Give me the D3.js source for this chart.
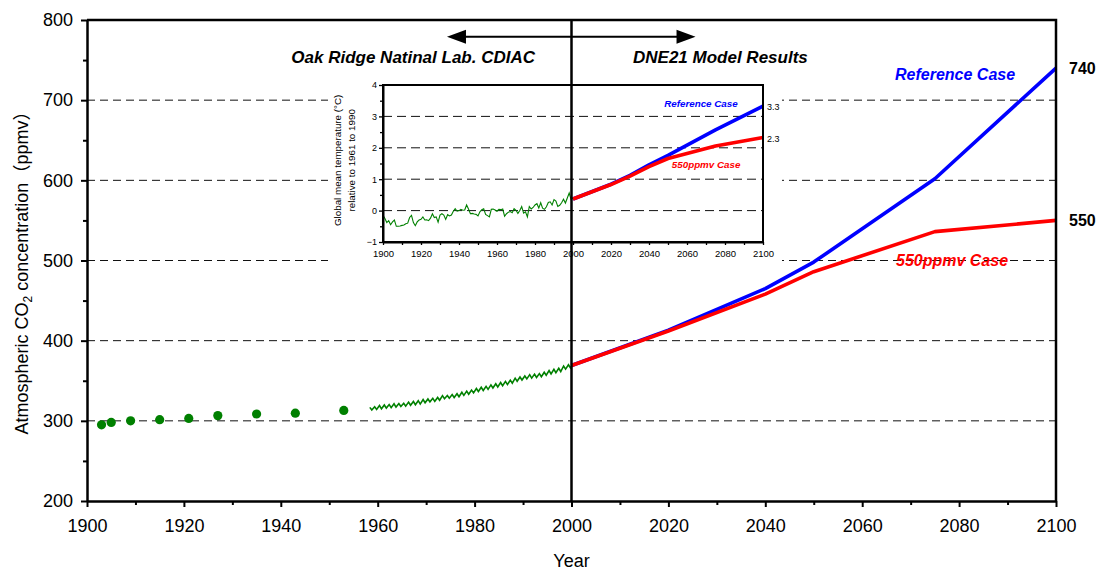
<!DOCTYPE html>
<html>
<head>
<meta charset="utf-8">
<script src="https://cdn.jsdelivr.net/npm/d3@7"></script>
<style>
  body { margin: 0; background: #fff; }
  svg { font-family: "Liberation Sans", Arial, "Noto Sans CJK JP", sans-serif; }
</style>
</head>
<body>
<div id="chart"></div>
<script>
// ice core CO2 (ppmv)
const iceYears = [1903, 1905, 1909, 1915, 1921, 1927, 1935, 1943, 1953];
const iceCO2 = [295, 298, 300, 301.5, 303, 306.5, 308.5, 309.5, 313];

// Mauna Loa seasonal highs (May) and lows (Oct), ppmv
const mlYears = [1958, 1959, 1960, 1961, 1962, 1963, 1964, 1965, 1966, 1967, 1968, 1969, 1970, 1971,
  1972, 1973, 1974, 1975, 1976, 1977, 1978, 1979, 1980, 1981, 1982, 1983, 1984, 1985, 1986, 1987,
  1988, 1989, 1990, 1991, 1992, 1993, 1994, 1995, 1996, 1997, 1998, 1999, 2000];
const mlHigh = [316.8, 317.6, 319.1, 319.8, 320.3, 321.3, 321.5, 322.0, 323.3, 324.1, 325.1, 326.5,
  327.3, 328.1, 329.2, 331.4, 331.7, 332.8, 333.8, 335.6, 337.0, 338.3, 340.3, 341.8, 343.0, 344.8,
  346.3, 347.8, 349.2, 350.8, 353.2, 354.7, 356.0, 357.6, 358.3, 358.9, 360.6, 362.6, 364.3, 365.5,
  368.4, 370.0, 371.0];
const mlLow = [313.6, 314.3, 315.0, 315.9, 316.5, 317.1, 317.9, 318.3, 319.4, 320.1, 320.9, 322.5,
  323.7, 324.2, 325.7, 327.6, 328.2, 329.1, 330.0, 331.8, 333.2, 334.8, 336.6, 337.9, 339.3, 340.9,
  342.3, 343.8, 345.2, 347.0, 349.4, 350.9, 352.3, 353.3, 354.1, 355.0, 356.9, 358.4, 360.0, 361.5,
  364.5, 366.0];

// DNE21 model results (ppmv)
const modelYears = [2000, 2020, 2040, 2050, 2075, 2100];
const refCO2 = [369, 413, 465, 498, 602, 740];
const caseCO2 = [369, 412, 458, 486, 536, 550];

// inset: temperature anomaly 1900-2000 (degC, rel. 1961-1990)
const tempStart = 1900;
const tempAnomaly = [-0.15, -0.25, -0.38, -0.32, -0.45, -0.36, -0.30, -0.50, -0.50, -0.49,
  -0.47, -0.46, -0.42, -0.40, -0.22, -0.15, -0.38, -0.48, -0.36, -0.30,
  -0.28, -0.20, -0.30, -0.29, -0.32, -0.24, -0.10, -0.22, -0.20, -0.37,
  -0.14, -0.10, -0.14, -0.28, -0.13, -0.17, -0.14, -0.02, 0.06, -0.02,
  0.00, 0.04, 0.01, 0.02, 0.18, 0.05, -0.10, -0.09, -0.11, -0.12,
  -0.17, -0.04, 0.03, 0.06, -0.12, -0.16, -0.20, 0.04, 0.05, 0.02,
  -0.02, 0.04, 0.03, 0.05, -0.18, -0.10, -0.05, -0.03, -0.07, 0.06,
  0.01, -0.09, 0.00, 0.13, -0.08, -0.04, -0.20, 0.13, 0.05, 0.10,
  0.18, 0.22, 0.08, 0.25, 0.08, 0.04, 0.12, 0.26, 0.28, 0.18,
  0.35, 0.30, 0.13, 0.17, 0.25, 0.36, 0.24, 0.40, 0.56, 0.35, 0.40];

// inset: projected temperature (degC)
const tempModelYears = [2000, 2020, 2030, 2040, 2050, 2075, 2100];
const tempRef = [0.37, 0.84, 1.12, 1.46, 1.76, 2.57, 3.33];
const tempCase = [0.37, 0.83, 1.10, 1.40, 1.66, 2.06, 2.33];

// ticks
const yTicks = [200, 300, 400, 500, 600, 700, 800];
const yMinor = [250, 350, 450, 550, 650, 750];
const gridValues = [300, 400, 500, 600, 700];
const xTicks = [1900, 1920, 1940, 1960, 1980, 2000, 2020, 2040, 2060, 2080, 2100];
const xMinor = [1910, 1930, 1950, 1970, 1990, 2010, 2030, 2050, 2070, 2090];
const insetYTicks = [-1, 0, 1, 2, 3, 4];
const insetYMinor = [-0.5, 0.5, 1.5, 2.5, 3.5];
const insetGrid = [0, 1, 2, 3];

const BLUE = "#0000ff";
const RED = "#ff0000";
const GREEN = "#008000";

const width = 1096;
const height = 570;

const svg = d3.select("#chart").append("svg")
  .attr("width", width)
  .attr("height", height);

// main scales
const x = d3.scaleLinear().domain([1900, 2100]).range([87, 1056]);
const y = d3.scaleLinear().domain([200, 800]).range([501, 20]);

// gridlines
svg.append("g").selectAll("line")
  .data(gridValues)
  .join("line")
  .attr("x1", x(1900))
  .attr("x2", x(2100))
  .attr("y1", (d) => y(d))
  .attr("y2", (d) => y(d))
  .attr("stroke", "#111")
  .attr("stroke-width", 1)
  .attr("stroke-dasharray", "8,5");

// ice core dots
svg.append("g").selectAll("circle")
  .data(iceYears.map((yr, i) => ({ yr, v: iceCO2[i] })))
  .join("circle")
  .attr("cx", (d) => x(d.yr))
  .attr("cy", (d) => y(d.v))
  .attr("r", 4.6)
  .attr("fill", GREEN);

// mauna loa seasonal line
const mlPoints = [];
mlYears.forEach((yr, i) => {
  mlPoints.push({ yr: yr + 0.37, v: mlHigh[i] });
  if (mlLow[i] !== undefined) mlPoints.push({ yr: yr + 0.78, v: mlLow[i] });
});

svg.append("path")
  .datum(mlPoints)
  .attr("fill", "none")
  .attr("stroke", GREEN)
  .attr("stroke-width", 1.6)
  .attr("d", d3.line().x((d) => x(d.yr)).y((d) => y(d.v)));

// model lines
const mainLine = d3.line().x((d) => x(d.yr)).y((d) => y(d.v));
[[refCO2, BLUE], [caseCO2, RED]].forEach(([vals, color]) => {
  svg.append("path")
    .datum(modelYears.map((yr, i) => ({ yr, v: vals[i] })))
    .attr("fill", "none")
    .attr("stroke", color)
    .attr("stroke-width", 3.6)
    .attr("stroke-linejoin", "round")
    .attr("d", mainLine);
});

// inset chart
const xi = d3.scaleLinear().domain([1900, 2100]).range([383, 763]);
const yi = d3.scaleLinear().domain([-1, 4]).range([242, 85]);

const inset = svg.append("g");

inset.append("rect")
  .attr("x", 328)
  .attr("y", 78)
  .attr("width", 454)
  .attr("height", 190)
  .attr("fill", "#fff");

inset.append("g").selectAll("line")
  .data(insetGrid)
  .join("line")
  .attr("x1", xi(1900))
  .attr("x2", xi(2100))
  .attr("y1", (d) => yi(d))
  .attr("y2", (d) => yi(d))
  .attr("stroke", "#111")
  .attr("stroke-width", 1)
  .attr("stroke-dasharray", "9,5");

inset.append("path")
  .datum(tempAnomaly.map((v, i) => ({ yr: tempStart + i, v })))
  .attr("fill", "none")
  .attr("stroke", GREEN)
  .attr("stroke-width", 1.1)
  .attr("d", d3.line().x((d) => xi(d.yr)).y((d) => yi(d.v)));

const insetLine = d3.line().x((d) => xi(d.yr)).y((d) => yi(d.v));
[[tempRef, BLUE], [tempCase, RED]].forEach(([vals, color]) => {
  inset.append("path")
    .datum(tempModelYears.map((yr, i) => ({ yr, v: vals[i] })))
    .attr("fill", "none")
    .attr("stroke", color)
    .attr("stroke-width", 3.6)
    .attr("stroke-linejoin", "round")
    .attr("d", insetLine);
});

// inset frame
inset.append("rect")
  .attr("x", xi(1900))
  .attr("y", yi(4))
  .attr("width", xi(2100) - xi(1900))
  .attr("height", yi(-1) - yi(4))
  .attr("fill", "none")
  .attr("stroke", "#000")
  .attr("stroke-width", 2);

// inset axes
const insetLeft = inset.append("g")
  .attr("transform", `translate(${xi(1900)},0)`)
  .call(d3.axisLeft(yi).tickValues(insetYTicks).tickSize(4).tickSizeOuter(0).tickPadding(2)
    .tickFormat(d3.format("d")));
inset.append("g")
  .attr("transform", `translate(${xi(1900)},0)`)
  .call(d3.axisLeft(yi).tickValues(insetYMinor).tickSize(3).tickFormat(""))
  .call((g) => g.select(".domain").remove());

const insetBottom = inset.append("g")
  .attr("transform", `translate(0,${yi(-1)})`)
  .call(d3.axisBottom(xi).tickValues(xTicks).tickSize(3).tickSizeOuter(0).tickPadding(5).tickFormat(d3.format("d")));
inset.append("g")
  .attr("transform", `translate(0,${yi(-1)})`)
  .call(d3.axisBottom(xi).tickValues(xMinor).tickSize(3).tickFormat(""))
  .call((g) => g.select(".domain").remove());

inset.selectAll(".domain").attr("stroke-width", 2);
inset.selectAll(".tick line").attr("stroke-width", 1.3);
insetLeft.selectAll("text").attr("font-size", 9).attr("font-family", null);
insetBottom.selectAll("text").attr("font-size", 9.5).attr("font-family", null);

// inset y title
const insetTitle = inset.append("g")
  .attr("font-size", 9.8)
  .attr("text-anchor", "middle");
insetTitle.append("text")
  .attr("transform", `translate(341,${yi(1.6)}) rotate(-90)`)
  .text("Global mean temperature (°C)");
insetTitle.append("text")
  .attr("transform", `translate(355,${yi(1.6)}) rotate(-90)`)
  .text("relative to 1961 to 1990");

// inset labels
inset.append("text")
  .attr("x", xi(2048))
  .attr("y", yi(3.3))
  .attr("font-size", 9.8)
  .attr("font-weight", "bold")
  .attr("font-style", "italic")
  .attr("fill", BLUE)
  .text("Reference Case");
inset.append("text")
  .attr("x", xi(2052))
  .attr("y", yi(1.35))
  .attr("font-size", 9.8)
  .attr("font-weight", "bold")
  .attr("font-style", "italic")
  .attr("fill", RED)
  .text("550ppmv Case");
inset.append("text")
  .attr("x", xi(2100) + 4)
  .attr("y", yi(3.3) + 3.5)
  .attr("font-size", 9)
  .text("3.3");
inset.append("text")
  .attr("x", xi(2100) + 4)
  .attr("y", yi(2.3) + 3.5)
  .attr("font-size", 9)
  .text("2.3");

// 2000 divider
svg.append("line")
  .attr("x1", x(2000))
  .attr("x2", x(2000))
  .attr("y1", y(800))
  .attr("y2", y(200))
  .attr("stroke", "#000")
  .attr("stroke-width", 2.5);

// frame top and right
svg.append("path")
  .attr("d", `M${x(1900)},${y(800)}H${x(2100)}V${y(200)}`)
  .attr("fill", "none")
  .attr("stroke", "#000")
  .attr("stroke-width", 2.5);

// main axes
const leftAxis = svg.append("g")
  .attr("transform", `translate(${x(1900)},0)`)
  .call(d3.axisLeft(y).tickValues(yTicks).tickSize(6).tickSizeOuter(0).tickPadding(8));
svg.append("g")
  .attr("transform", `translate(${x(1900)},0)`)
  .call(d3.axisLeft(y).tickValues(yMinor).tickSize(4).tickFormat(""))
  .call((g) => g.select(".domain").remove());

const bottomAxis = svg.append("g")
  .attr("transform", `translate(0,${y(200)})`)
  .call(d3.axisBottom(x).tickValues(xTicks).tickSize(6).tickSizeOuter(0).tickPadding(12).tickFormat(d3.format("d")));
svg.append("g")
  .attr("transform", `translate(0,${y(200)})`)
  .call(d3.axisBottom(x).tickValues(xMinor).tickSize(4).tickFormat(""))
  .call((g) => g.select(".domain").remove());

[leftAxis, bottomAxis].forEach((g) => {
  g.select(".domain").attr("stroke-width", 2.5);
  g.selectAll("text").attr("font-size", 18).attr("font-family", null).attr("fill", "#000");
});
svg.selectAll(".tick line").filter(function () { return !inset.node().contains(this); })
  .attr("stroke-width", 2);

// axis titles
const yTitle = svg.append("text")
  .attr("transform", `translate(28,${y(490)}) rotate(-90)`)
  .attr("text-anchor", "middle")
  .attr("font-size", 18);
yTitle.append("tspan").text("Atmospheric CO");
yTitle.append("tspan").attr("font-size", 12).attr("dy", 4).text("2");
yTitle.append("tspan").attr("dy", -4).text(" concentration（ppmv）");

svg.append("text")
  .attr("x", x(2000))
  .attr("y", 567)
  .attr("text-anchor", "middle")
  .attr("font-size", 18)
  .text("Year");

// double arrow
const arrowY = y(779);
const ax1 = x(1974.3);
const ax2 = x(2025.6);
svg.append("line")
  .attr("x1", ax1 + 10)
  .attr("x2", ax2 - 10)
  .attr("y1", arrowY)
  .attr("y2", arrowY)
  .attr("stroke", "#000")
  .attr("stroke-width", 2);
svg.append("path")
  .attr("d", `M${ax1},${arrowY}L${ax1 + 19},${arrowY - 7}L${ax1 + 19},${arrowY + 7}Z` +
    `M${ax2},${arrowY}L${ax2 - 19},${arrowY - 7}L${ax2 - 19},${arrowY + 7}Z`)
  .attr("fill", "#000");

// section labels
svg.append("text")
  .attr("x", 535)
  .attr("y", 63)
  .attr("text-anchor", "end")
  .attr("font-size", 17)
  .attr("font-weight", "bold")
  .attr("font-style", "italic")
  .text("Oak Ridge Natinal Lab. CDIAC");
svg.append("text")
  .attr("x", 633)
  .attr("y", 63)
  .attr("font-size", 17)
  .attr("font-weight", "bold")
  .attr("font-style", "italic")
  .text("DNE21 Model Results");

// case labels
svg.append("text")
  .attr("x", 895)
  .attr("y", 80)
  .attr("font-size", 16)
  .attr("font-weight", "bold")
  .attr("font-style", "italic")
  .attr("fill", BLUE)
  .text("Reference Case");
svg.append("text")
  .attr("x", 896)
  .attr("y", 266)
  .attr("font-size", 16)
  .attr("font-weight", "bold")
  .attr("font-style", "italic")
  .attr("fill", RED)
  .text("550ppmv Case");

// end values
svg.append("g").selectAll("text")
  .data([refCO2[refCO2.length - 1], caseCO2[caseCO2.length - 1]])
  .join("text")
  .attr("x", x(2100) + 13)
  .attr("y", (d) => y(d) + 6)
  .attr("font-size", 16)
  .attr("font-weight", "bold")
  .text((d) => d);
</script>
</body>
</html>
